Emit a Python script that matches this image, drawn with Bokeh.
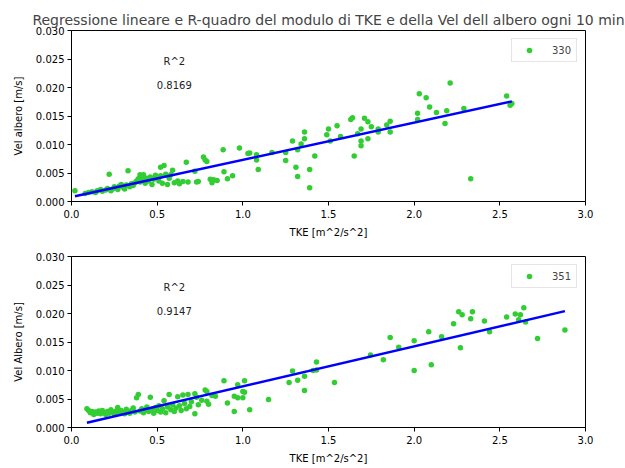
from bokeh.plotting import figure
from bokeh.models import Range1d, FixedTicker, NumeralTickFormatter, Label
from bokeh.layouts import column
from bokeh.embed import file_html
from bokeh.resources import INLINE

TITLE = "Regressione lineare e R-quadro del modulo di TKE e della Vel dell albero ogni 10 min"
X_LABEL = "TKE [m^2/s^2]"
X_TICKS = [0.0, 0.5, 1.0, 1.5, 2.0, 2.5, 3.0]
Y_TICKS = [0.000, 0.005, 0.010, 0.015, 0.020, 0.025, 0.030]

# ---- series 330 (top) ----
series_330 = "330"
ylabel_330 = "Vel albero [m/s]"
r2_330 = "0.8169"
fit_330 = (0.00653, 0.00078)  # slope, intercept
x_330 = [0.02, 0.08, 0.10, 0.12, 0.14, 0.15, 0.17, 0.18, 0.20, 0.21, 0.22, 0.23, 0.24, 0.25,
         0.26, 0.27, 0.28, 0.29, 0.30, 0.31, 0.32, 0.33, 0.34, 0.35, 0.36, 0.37, 0.38, 0.39,
         0.40, 0.40, 0.41, 0.42, 0.42, 0.43, 0.44, 0.45, 0.46, 0.47, 0.48, 0.49, 0.50, 0.51,
         0.52, 0.52, 0.53, 0.54, 0.55, 0.56, 0.57, 0.58, 0.59, 0.60, 0.62, 0.63, 0.65, 0.67,
         0.68, 0.72, 0.73, 0.74, 0.77, 0.78, 0.79, 0.81, 0.82, 0.83, 0.85, 0.885, 0.89, 0.91,
         0.94, 0.98, 1.03, 1.04, 1.08, 1.08, 1.09, 1.17, 1.25, 1.25, 1.29, 1.31, 1.32, 1.32,
         1.34, 1.36, 1.36, 1.39, 1.39, 1.42, 1.49, 1.50, 1.51, 1.55, 1.57, 1.63, 1.64, 1.65,
         1.67, 1.69, 1.69, 1.69, 1.71, 1.73, 1.73, 1.75, 1.79, 1.79, 1.84, 1.86, 1.86, 2.02,
         2.02, 2.03, 2.07, 2.09, 2.13, 2.18, 2.19, 2.21, 2.29, 2.33, 2.54, 2.56, 2.57]
y_330 = [0.0019, 0.0014, 0.0016, 0.0017, 0.0016, 0.0019, 0.0021, 0.0018, 0.0020, 0.0023, 0.0048,
         0.0019, 0.0022, 0.0026, 0.0024, 0.0021, 0.0027, 0.0030, 0.0025, 0.0022, 0.0029, 0.0054,
         0.0026, 0.0031, 0.0028, 0.0033, 0.0036, 0.0040, 0.0047, 0.0034, 0.0044, 0.0047, 0.0038,
         0.0032, 0.0041, 0.0036, 0.0043, 0.0030, 0.0039, 0.0046, 0.0042, 0.0036, 0.0060, 0.0045,
         0.0032, 0.0063, 0.0048, 0.0030, 0.0041, 0.0047, 0.0055, 0.0033, 0.0036, 0.0031, 0.0035,
         0.0069, 0.0034, 0.0053, 0.0034, 0.0035, 0.0078, 0.0073, 0.0070, 0.0039, 0.0033, 0.0038,
         0.0037, 0.0091, 0.0052, 0.0040, 0.0045, 0.0094, 0.0084, 0.0085, 0.0082, 0.0073, 0.0056,
         0.0086, 0.0086, 0.0072, 0.0106, 0.0060, 0.0044, 0.0091, 0.0101, 0.0122, 0.0110, 0.0056,
         0.0024, 0.0080, 0.0117, 0.0127, 0.0106, 0.0133, 0.0114, 0.0144, 0.0147, 0.0080, 0.0119,
         0.0127, 0.0106, 0.0098, 0.0146, 0.0140, 0.0110, 0.0131, 0.0127, 0.0122, 0.0134, 0.0141,
         0.0122, 0.0155, 0.0144, 0.0189, 0.0182, 0.0166, 0.0156, 0.0137, 0.0159, 0.0208, 0.0163,
         0.0040, 0.0185, 0.0169, 0.0172]

# ---- series 351 (bottom) ----
series_351 = "351"
ylabel_351 = "Vel Albero [m/s]"
r2_351 = "0.9147"
fit_351 = (0.00702, 0.00020)  # slope, intercept
x_351 = [0.09, 0.10, 0.11, 0.12, 0.13, 0.14, 0.15, 0.16, 0.17, 0.18, 0.19, 0.20, 0.21, 0.22,
         0.23, 0.24, 0.25, 0.26, 0.27, 0.28, 0.29, 0.30, 0.31, 0.32, 0.33, 0.34, 0.35, 0.36,
         0.37, 0.38, 0.39, 0.40, 0.41, 0.42, 0.43, 0.44, 0.45, 0.46, 0.47, 0.48, 0.49, 0.50,
         0.51, 0.52, 0.53, 0.54, 0.55, 0.56, 0.57, 0.58, 0.59, 0.60, 0.61, 0.62, 0.63, 0.64,
         0.65, 0.66, 0.67, 0.68, 0.69, 0.70, 0.72, 0.72, 0.73, 0.74, 0.76, 0.78, 0.79, 0.79,
         0.80, 0.82, 0.84, 0.89, 0.91, 0.95, 0.95, 0.97, 0.97, 1.00, 1.00, 1.01, 1.01, 1.04,
         1.15, 1.27, 1.29, 1.32, 1.36, 1.36, 1.41, 1.43, 1.43, 1.535, 1.745, 1.82, 1.86, 1.91,
         2.00, 2.00, 2.085, 2.10, 2.16, 2.23, 2.26, 2.27, 2.28, 2.33, 2.34, 2.41, 2.44, 2.54,
         2.59, 2.61, 2.62, 2.64, 2.65, 2.72, 2.88]
y_351 = [0.0033, 0.0030, 0.0026, 0.0028, 0.0023, 0.0027, 0.0025, 0.0029, 0.0024, 0.0030, 0.0026,
         0.0023, 0.0028, 0.0025, 0.0031, 0.0027, 0.0024, 0.0029, 0.0035, 0.0026, 0.0030, 0.0027,
         0.0024, 0.0032, 0.0028, 0.0025, 0.0030, 0.0034, 0.0027, 0.0052, 0.0058, 0.0029, 0.0033,
         0.0026, 0.0031, 0.0036, 0.0028, 0.0053, 0.0032, 0.0025, 0.0035, 0.0030, 0.0038, 0.0027,
         0.0033, 0.0047, 0.0026, 0.0036, 0.0058, 0.0031, 0.0040, 0.0028, 0.0034, 0.0054, 0.0038,
         0.0030, 0.0057, 0.0042, 0.0033, 0.0058, 0.0037, 0.0045, 0.0059, 0.0024, 0.0053, 0.0040,
         0.0048, 0.0066, 0.0063, 0.0046, 0.0041, 0.0056, 0.0055, 0.0082, 0.0043, 0.0028, 0.0055,
         0.0052, 0.0075, 0.0063, 0.0052, 0.0082, 0.0062, 0.0031, 0.0049, 0.0079, 0.0099, 0.0083,
         0.0090, 0.0065, 0.0100, 0.0115, 0.0101, 0.0079, 0.0127, 0.0119, 0.0158, 0.0141, 0.0152,
         0.0100, 0.0168, 0.0110, 0.0159, 0.0182, 0.0203, 0.0140, 0.0198, 0.0191, 0.0203, 0.0187,
         0.0168, 0.0194, 0.0199, 0.0189, 0.0198, 0.0210, 0.0185, 0.0156, 0.0171]

FONT = "DejaVu Sans"


def make_panel(xs, ys, series, fit, r2, ylabel, height, top_border, title=None):
    p = figure(width=625, height=height, x_range=Range1d(0, 3), y_range=Range1d(0, 0.03),
               output_backend="svg", toolbar_location=None,
               min_border_left=71, min_border_right=40, min_border_top=top_border,
               min_border_bottom=38, title=title)
    if title:
        p.title.text_font = FONT
        p.title.text_font_size = "14px"
        p.title.text_font_style = "normal"
        p.title.align = "center"
        p.title.standoff = 5
        p.title.offset = 0
    p.grid.visible = False
    p.outline_line_color = "black"
    p.outline_line_width = 1
    p.outline_line_alpha = 1

    for ax in (p.xaxis[0], p.yaxis[0]):
        ax.axis_line_color = "black"
        ax.major_tick_line_color = "black"
        ax.major_tick_in = 0
        ax.major_tick_out = 4
        ax.minor_tick_line_color = None
        ax.major_label_text_font = FONT
        ax.major_label_text_font_size = "10px"
        ax.major_label_text_color = "black"
        ax.axis_label_text_font = FONT
        ax.axis_label_text_font_size = "10px"
        ax.axis_label_text_font_style = "normal"
        ax.axis_label_text_color = "black"

    p.xaxis.ticker = FixedTicker(ticks=X_TICKS)
    p.xaxis.formatter = NumeralTickFormatter(format="0.0")
    p.xaxis.major_label_standoff = 4
    p.xaxis.axis_label = X_LABEL
    p.xaxis.axis_label_standoff = 6

    p.yaxis.ticker = FixedTicker(ticks=Y_TICKS)
    p.yaxis.formatter = NumeralTickFormatter(format="0.000")
    p.yaxis.major_label_standoff = 3
    p.yaxis.axis_label = ylabel
    p.yaxis.axis_label_standoff = 9

    p.scatter(xs, ys, size=5.5, fill_color="limegreen", line_color=None, legend_label=series)

    slope, icpt = fit
    lx = [min(xs), max(xs)]
    ly = [icpt + slope * v for v in lx]
    p.line(lx, ly, line_color="blue", line_width=2.5)

    p.add_layout(Label(x=0.60, y=0.0245, text="R^2", text_font=FONT, text_font_size="10px",
                       text_align="center", text_baseline="middle", text_color="#222222"))
    p.add_layout(Label(x=0.60, y=0.0205, text=r2, text_font=FONT, text_font_size="10px",
                       text_align="center", text_baseline="middle", text_color="#222222"))

    lg = p.legend[0]
    lg.location = "top_right"
    lg.margin = 8
    lg.padding = 4
    lg.spacing = 0
    lg.border_line_color = "#cccccc"
    lg.border_line_width = 1
    lg.background_fill_alpha = 0.8
    lg.label_text_font = FONT
    lg.label_text_font_size = "10px"
    lg.glyph_width = 26
    lg.glyph_height = 14
    lg.label_height = 14
    lg.label_standoff = 10
    return p


p1 = make_panel(x_330, y_330, series_330, fit_330, r2_330, ylabel_330, 240, 30, TITLE)
p2 = make_panel(x_351, y_351, series_351, fit_351, r2_351, ylabel_351, 226, 16)

layout = column(p1, p2, spacing=0)
html = file_html(layout, INLINE)
html = html.replace("<body>", '<body style="overflow:hidden">', 1)
open("out.html", "w").write(html)
